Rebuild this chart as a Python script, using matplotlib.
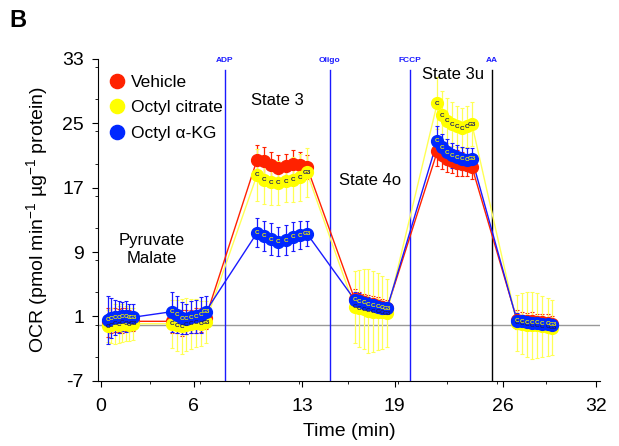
import numpy as np
from matplotlib import pyplot as plt
from matplotlib.ticker import MultipleLocator

plt.rcParams['font.family'] = ['Liberation Sans', 'DejaVu Sans']
plt.rcParams['axes.unicode_minus'] = False
plt.rcParams['mathtext.fontset'] = 'custom'
plt.rcParams['mathtext.rm'] = 'Liberation Sans'

# measurement times (min), 6 cycles of 8 readings
time_min = [0.45, 0.68, 0.91, 1.14, 1.37, 1.60, 1.83, 2.06,
            4.60, 4.91, 5.22, 5.53, 5.84, 6.15, 6.46, 6.77,
            10.10, 10.56, 11.02, 11.48, 11.94, 12.40, 12.86, 13.32,
            16.40, 16.70, 17.00, 17.30, 17.60, 17.90, 18.20, 18.50,
            21.75, 22.07, 22.39, 22.71, 23.03, 23.35, 23.67, 23.99,
            26.90, 27.23, 27.56, 27.89, 28.22, 28.55, 28.88, 29.20]

vehicle = [0.3, 0.5, 0.6, 0.5, 0.5, 0.6, 0.5, 0.4,
           0.4, 0.3, 0.2, 0.3, 0.4, 0.5, 0.6, 0.8,
           20.5, 20.3, 19.8, 19.5, 19.7, 20.0, 19.8, 19.6,
           3.2, 3.0, 2.8, 2.6, 2.5, 2.3, 2.2, 2.0,
           21.5, 21.0, 20.6, 20.3, 20.1, 19.9, 19.8, 19.6,
           0.6, 0.5, 0.4, 0.4, 0.3, 0.3, 0.2, 0.1]
vehicle_err = [1.8, 1.6, 1.5, 1.4, 1.5, 1.4, 1.3, 1.2,
               1.5, 1.4, 1.6, 1.5, 1.4, 1.6, 1.5, 1.4,
               1.8, 1.7, 1.6, 1.6, 1.5, 1.7, 1.6, 1.5,
               1.2, 1.1, 1.0, 1.1, 1.0, 1.1, 1.0, 1.0,
               1.8, 1.7, 1.6, 1.5, 1.6, 1.5, 1.4, 1.5,
               1.2, 1.1, 1.0, 1.1, 1.0, 1.0, 1.1, 1.0]

octyl_citrate = [-0.2, -0.1, 0.1, 0.0, 0.2, 0.1, 0.0, 0.1,
                 0.1, -0.1, -0.2, 0.0, 0.1, 0.2, 0.1, 0.3,
                 18.6, 18.0, 17.7, 17.6, 17.8, 18.0, 18.3, 18.9,
                 2.2, 2.0, 1.9, 1.7, 1.6, 1.6, 1.5, 1.4,
                 27.5, 26.0, 25.3, 24.9, 24.6, 24.4, 24.6, 24.9,
                 0.2, 0.1, 0.0, -0.1, -0.1, -0.2, -0.3, -0.4]
octyl_citrate_err = [2.0, 2.2, 2.5, 2.3, 2.4, 2.2, 2.1, 2.0,
                     3.0, 3.2, 3.4, 3.3, 3.1, 3.0, 2.8, 2.6,
                     3.2, 3.0, 2.8, 2.7, 2.6, 2.8, 2.9, 3.0,
                     4.5, 4.8, 5.0, 5.2, 5.0, 4.8, 4.5, 4.2,
                     3.2, 3.0, 2.8, 2.7, 2.6, 2.5, 2.6, 2.7,
                     3.5, 3.8, 4.0, 4.2, 4.0, 3.8, 3.6, 3.4]

octyl_akg = [0.6, 0.8, 0.9, 0.9, 1.0, 1.0, 0.9, 0.9,
             1.6, 1.2, 0.8, 0.7, 0.9, 1.0, 1.2, 1.6,
             11.4, 11.0, 10.6, 10.3, 10.5, 10.9, 11.1, 11.3,
             3.1, 2.9, 2.7, 2.5, 2.4, 2.2, 2.1, 2.0,
             22.8, 22.0, 21.4, 21.0, 20.8, 20.6, 20.5, 20.6,
             0.5, 0.4, 0.3, 0.2, 0.2, 0.1, 0.1, 0.0]
octyl_akg_err = [3.0, 2.5, 2.2, 2.0, 1.8, 1.9, 1.7, 1.6,
                 2.5, 2.3, 2.0, 1.9, 2.0, 2.1, 2.2, 2.0,
                 1.8, 1.9, 2.0, 1.8, 1.9, 1.8, 1.7, 1.6,
                 1.0, 1.0, 0.9, 0.9, 0.8, 0.8, 0.8, 0.8,
                 1.8, 1.7, 1.6, 1.5, 1.5, 1.4, 1.4, 1.3,
                 0.9, 0.8, 0.8, 0.8, 0.7, 0.7, 0.7, 0.7]

injections = ['ADP', 'Oligo', 'FCCP', 'AA']
injection_times = [8.0, 14.8, 20.0, 25.3]
injection_colors = ['#1a1aff', '#1a1aff', '#1a1aff', '#000000']

states = ['Pyruvate\nMalate', 'State 3', 'State 4o', 'State 3u']
state_x = [3.3, 11.4, 17.4, 22.8]
state_y = [9.3, 27.8, 17.9, 31.0]

series = [
    ('Vehicle', vehicle, vehicle_err, '#ff2200', '#ff2200', None),
    ('Octyl citrate', octyl_citrate, octyl_citrate_err, '#ffff00', '#ffff55', '#1c1c60'),
    ('Octyl \u03b1-KG', octyl_akg, octyl_akg_err, '#0028ff', '#1a1aff', '#f0f000'),
]

fig = plt.figure(figsize=(6.19, 4.46), dpi=100)
ax = fig.add_axes([0.158, 0.146, 0.812, 0.722])

ax.axhline(0, color='#999999', lw=1, zorder=0)

for name, t, c in zip(injections, injection_times, injection_colors):
    ax.axvline(t, ymin=0, ymax=0.965, color=c, lw=1, zorder=1)
    ax.text(t, 32.4, name, color='#1a1aff', fontsize=6, fontweight='bold',
            ha='center', va='bottom')

for label, vals, err, col, lcol, txtcol in series:
    ax.errorbar(time_min, vals, yerr=err, fmt='none', ecolor=lcol, elinewidth=0.9,
                capsize=1.5, capthick=0.8, zorder=2)
    ax.plot(time_min, vals, color=lcol, lw=1, zorder=2)
    ax.plot(time_min, vals, 'o', color=col, ms=8.5, mec=col, lw=0, label=label, zorder=3)
    if txtcol is not None:
        # well-group tags printed over the markers
        for i, (t, v) in enumerate(zip(time_min, vals)):
            s = 'G3' if i % 8 == 7 else 'C'
            ax.text(t, v, s, color=txtcol, fontsize=4.5, fontweight='bold',
                    ha='center', va='center', zorder=4)

for s, x, y in zip(states, state_x, state_y):
    ax.text(x, y, s, fontsize=12, ha='center', va='center')

ax.set_xlim(-0.2, 32.3)
ax.set_ylim(-7, 33)
ax.set_xticks([0, 6, 13, 19, 26, 32])
ax.set_yticks([-7, 1, 9, 17, 25, 33])
ax.xaxis.set_minor_locator(MultipleLocator(3.2))
ax.yaxis.set_minor_locator(MultipleLocator(4))
ax.tick_params(which='major', labelsize=14, length=4)
ax.tick_params(axis='x', which='major', pad=8)
ax.tick_params(axis='y', which='major', pad=6)
ax.tick_params(which='minor', length=2)
for side in ['top', 'right']:
    ax.spines[side].set_visible(False)

ax.set_xlabel('Time (min)', fontsize=14, labelpad=6)
ax.set_ylabel('OCR (pmol min$^{-1}$ \u00b5g$^{-1}$ protein)', fontsize=14, labelpad=8)

ax.legend(loc='upper left', bbox_to_anchor=(-0.01, 1.0), frameon=False,
          fontsize=12.5, handletextpad=0.3, labelspacing=0.6, handlelength=1.0,
          markerscale=1.2)

fig.text(0.015, 0.955, 'B', fontsize=17, fontweight='bold', va='center')

fig.savefig('out.png', dpi=100)
